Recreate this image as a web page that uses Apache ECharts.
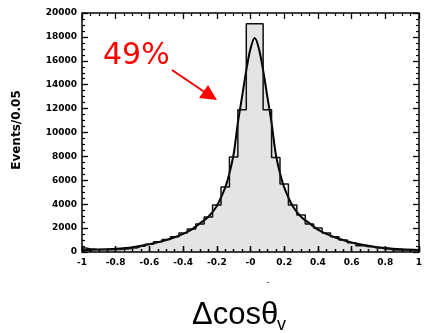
<!DOCTYPE html>
<html>
<head>
<meta charset="utf-8">
<script src="https://cdn.jsdelivr.net/npm/echarts@6/dist/echarts.min.js"></script>
<style>
html,body{margin:0;padding:0;background:#fff;}
#chart{width:430px;height:333px;}
</style>
</head>
<body>
<div id="chart"></div>
<script>
// ---- data ----
const binCenters = [-1,-0.95,-0.9,-0.85,-0.8,-0.75,-0.7,-0.65,-0.6,-0.55,-0.5,-0.45,-0.4,-0.35,-0.3,-0.25,-0.2,-0.15,-0.1,-0.05,0,0.05,0.1,0.15,0.2,0.25,0.3,0.35,0.4,0.45,0.5,0.55,0.6,0.65,0.7,0.75,0.8,0.85,0.9,0.95,1];
const histValues = [330,250,200,180,200,250,330,480,650,850,1050,1280,1590,1920,2340,2930,3930,5440,7950,11900,19100,19100,11900,7900,5700,3930,3100,2340,2000,1600,1280,1000,780,530,440,330,250,170,170,170,170];
const curveX = [-1,-0.9,-0.8,-0.7,-0.6,-0.5,-0.45,-0.4,-0.35,-0.3,-0.25,-0.2,-0.15,-0.125,-0.1,-0.075,-0.05,-0.025,0,0.025,0.05,0.075,0.1,0.125,0.15,0.175,0.2,0.25,0.3,0.35,0.4,0.45,0.5,0.55,0.6,0.7,0.8,0.9,1];
const curveY = [150,200,270,400,640,1000,1230,1520,1880,2400,2950,3850,5400,6600,8200,10800,13000,15200,17000,17900,17000,15200,13000,10800,8200,6600,5400,3850,2950,2400,1880,1520,1230,1000,800,530,330,220,160];
const centerFillX = [-0.025, 0.075];
const centerFillY = [19100, 19100];
const xTickLabels = ["-1","-0.8","-0.6","-0.4","-0.2","-0","0.2","0.4","0.6","0.8","1"];
const yTickLabels = ["0","2000","4000","6000","8000","10000","12000","14000","16000","18000","20000"];
const yAxisTitle = "Events/0.05";
const annotation = "49%";
const xTitleMain = "Δcosθ";
const xTitleSub = "v";

const chart = echarts.init(document.getElementById('chart'), null, {renderer:'canvas'});
const lblFont = {fontFamily:'DejaVu Sans', fontSize:9, color:'#000', fontWeight:'bold'};
function xAxisCfg(pos, showLabels, gi){
  return {
    type:'value', gridIndex:gi, position:pos, min:-1, max:1, interval:0.2, zlevel:1, z:10,
    axisLine:{show:false, onZero:false},
    axisTick:{show:true, inside:true, length:6, lineStyle:{color:'#000', width:1.3}},
    minorTick:{show:true, splitNumber:4, length:3, lineStyle:{color:'#000', width:1.2}},
    splitLine:{show:false},
    axisLabel:Object.assign({show:showLabels, margin:6,
      formatter:v=>xTickLabels[Math.round((v+1)/0.2)]}, lblFont)
  };
}
function yAxisCfg(pos, showLabels, gi){
  return {
    type:'value', gridIndex:gi, position:pos, min:0, max:20000, interval:2000, zlevel:1, z:10,
    axisLine:{show:false, onZero:false},
    axisTick:{show:true, inside:true, length:6, lineStyle:{color:'#000', width:1.3}},
    minorTick:{show:true, splitNumber:4, length:3, lineStyle:{color:'#000', width:1.2}},
    splitLine:{show:false},
    axisLabel:Object.assign({show:showLabels, margin:5,
      formatter:v=>yTickLabels[Math.round(v/2000)]}, lblFont)
  };
}
// helper axes (strips along the bottom edge) that carry the bottom ticks
function stripAxis(gi, interval, len){
  return {
    type:'value', gridIndex:gi, position:'top', min:-1, max:1, interval:interval, zlevel:1, z:10,
    axisLine:{show:false, onZero:false},
    axisTick:{show:true, inside:true, length:len, lineStyle:{color:'#000', width:1.3}},
    minorTick:{show:false},
    splitLine:{show:false},
    axisLabel:{show:false}
  };
}
function hiddenY(gi){ return {type:'value', gridIndex:gi, min:0, max:1, show:false}; }

const option = {
  animation:false,
  grid:[
    {left:82, right:11, top:13, bottom:81, show:true, borderColor:'#000', borderWidth:1.5, backgroundColor:'transparent', zlevel:1, z:10},
    {left:82, right:11, top:246, bottom:81, show:false},
    {left:82, right:11, top:249, bottom:81, show:false}
  ],
  xAxis:[xAxisCfg('bottom', true, 0), xAxisCfg('top', false, 0), stripAxis(1, 0.2, 6), stripAxis(2, 0.05, 3)],
  yAxis:[yAxisCfg('left', true, 0), yAxisCfg('right', false, 0), hiddenY(1), hiddenY(2)],
  series:[
    {
      type:'line', xAxisIndex:0, yAxisIndex:0, symbol:'none', z:1,
      data:centerFillX.map((x,i)=>[x, centerFillY[i]]),
      lineStyle:{width:0}, areaStyle:{color:'#e4e4e4', opacity:1}
    },
    {
      type:'line', xAxisIndex:0, yAxisIndex:0, symbol:'none', z:2, smooth:0.35,
      data:curveX.map((x,i)=>[x, curveY[i]]),
      lineStyle:{color:'#000', width:2}, areaStyle:{color:'#e4e4e4', opacity:1}
    },
    {
      type:'line', xAxisIndex:0, yAxisIndex:0, symbol:'none', z:3, step:'middle',
      data:binCenters.map((x,i)=>[x, histValues[i]]),
      lineStyle:{color:'#111', width:1.5}
    }
  ],
  graphic:[
    {type:'text', x:17, y:130, rotation:Math.PI/2,
     style:{text:yAxisTitle, fontFamily:'DejaVu Sans', fontSize:12, fontWeight:'bold', fill:'#000', align:'center', verticalAlign:'middle'}},
    {type:'text', x:103, y:56,
     style:{text:annotation, fontFamily:'DejaVu Sans', fontSize:30, fill:'#ff0000', align:'left', verticalAlign:'middle'}},
    {type:'line', shape:{x1:172, y1:70, x2:206, y2:93}, style:{stroke:'#ff0000', lineWidth:2}},
    {type:'polygon', shape:{points:[[217,100],[199,98],[208,85]]}, style:{fill:'#ff0000'}},
    {type:'text', x:268, y:283,
     style:{text:'-', fontFamily:'DejaVu Sans', fontSize:9, fill:'#444', align:'center', verticalAlign:'middle'}},
    {type:'text', x:192, y:315,
     style:{text:xTitleMain, fontFamily:'Liberation Sans', fontSize:31, fill:'#000', align:'left', verticalAlign:'middle'}},
    {type:'text', x:277, y:325,
     style:{text:xTitleSub, fontFamily:'Liberation Sans', fontSize:18, fill:'#000', align:'left', verticalAlign:'middle'}}
  ]
};
chart.setOption(option);
</script>
</body>
</html>
